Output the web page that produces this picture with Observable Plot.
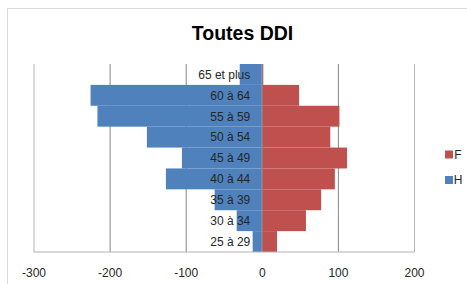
<!DOCTYPE html>
<html>
<head>
<meta charset="utf-8">
<script src="https://cdn.jsdelivr.net/npm/d3@7"></script>
<script src="https://cdn.jsdelivr.net/npm/@observablehq/plot@0.6"></script>
<style>
  html, body { margin: 0; padding: 0; background: #fff; }
  #wrap { position: relative; width: 467px; height: 284px; overflow: hidden; }
  #frame { position: absolute; left: 7px; top: 8px; width: 480px; height: 300px; border: 1px solid #D9D9D9; box-sizing: border-box; }
  #chart { position: absolute; left: 0; top: 0; }
</style>
</head>
<body>
<div id="wrap"><div id="frame"></div><div id="chart"></div></div>
<script>
const ageGroups = ["65 et plus", "60 à 64", "55 à 59", "50 à 54", "45 à 49", "40 à 44", "35 à 39", "30 à 34", "25 à 29"];
const hommes = [-29, -225, -216, -151, -105, -126, -62, -33, -12];
const femmes = [2, 49, 102, 90, 112, 96, 78, 58, 20];
const xTicks = [-300, -200, -100, 0, 100, 200];
const seriesNames = ["F", "H"];
const title = "Toutes DDI";

const colors = {F: "#C0504D", H: "#4F81BD"};
const rowsH = ageGroups.map((g, i) => ({age: g, value: hommes[i]}));
const rowsF = ageGroups.map((g, i) => ({age: g, value: femmes[i]}));

const font = "'Liberation Sans', Arial, sans-serif";

const plot = Plot.plot({
  width: 467,
  height: 284,
  marginLeft: 33.5,
  marginRight: 53,
  marginTop: 64,
  marginBottom: 32,
  style: {fontFamily: font, fontSize: "12px", color: "#262626", background: "transparent"},
  x: {domain: [-300, 200], ticks: xTicks, tickSize: 0, tickPadding: 16, label: null, tickFormat: d => String(d).replace("−", "-")},
  y: {domain: ageGroups, padding: 0, round: false, axis: null},
  marks: [
    Plot.ruleX(xTicks.filter(t => t !== 0 && t !== -300 && t !== 200), {stroke: "#868686", strokeWidth: 1}),
    Plot.ruleX([-300, 200], {stroke: "#B4B4B4", strokeWidth: 1}),
    Plot.barX(rowsH, {x: "value", y: "age", fill: colors.H, inset: 0}),
    Plot.barX(rowsF, {x: "value", y: "age", fill: colors.F, inset: 0}),
    Plot.ruleX([0], {stroke: "#868686", strokeWidth: 1}),
    Plot.text(ageGroups, {x: 0, y: d => d, text: d => d, textAnchor: "end", dx: -12, fill: "#262626", fontSize: 12})
  ]
});

document.getElementById("chart").appendChild(plot);

const svg = d3.select(plot);
// bottom axis line
svg.append("line")
  .attr("x1", 33.5).attr("x2", 414).attr("y1", 252).attr("y2", 252)
  .attr("stroke", "#B4B4B4").attr("stroke-width", 1);
// title
svg.append("text")
  .attr("x", 242.5).attr("y", 40)
  .attr("text-anchor", "middle")
  .attr("font-family", font)
  .attr("font-weight", "bold")
  .attr("font-size", 19.5)
  .attr("fill", "#000")
  .text(title);
// legend
seriesNames.forEach((s, i) => {
  const cy = 154.5 + i * 25.5;
  svg.append("rect").attr("x", 445).attr("y", cy - 4).attr("width", 8).attr("height", 8).attr("fill", colors[s]);
  svg.append("text").attr("x", 458).attr("y", cy + 4.3)
    .attr("font-family", font).attr("font-size", 12).attr("fill", "#262626").text(s);
});
</script>
</body>
</html>
